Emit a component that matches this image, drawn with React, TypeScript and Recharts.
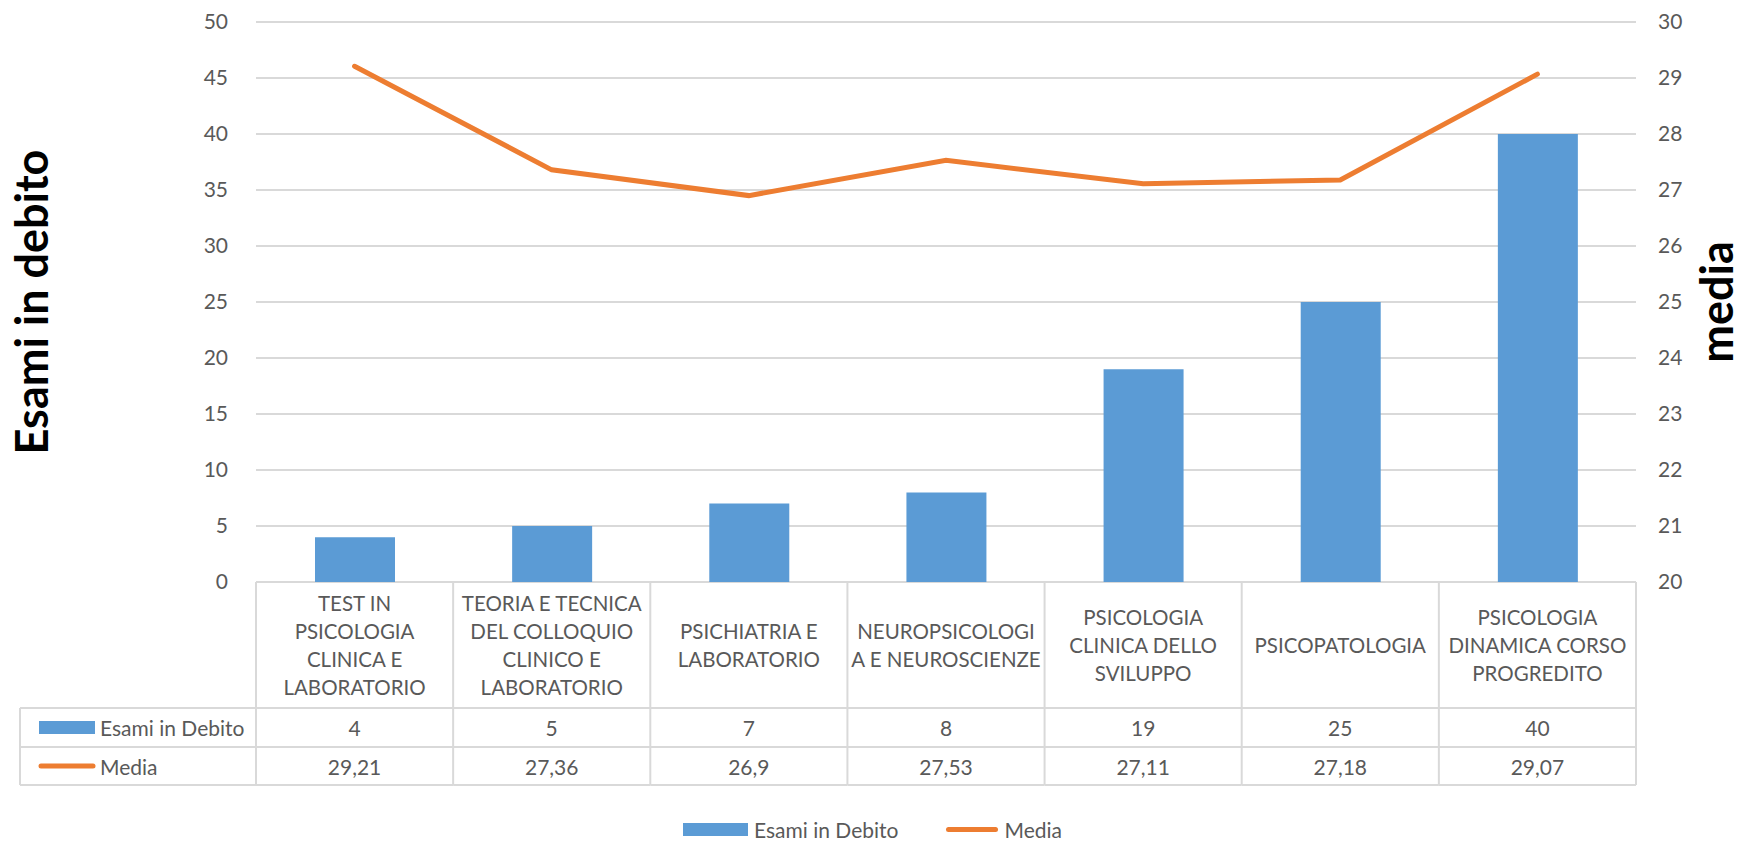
import React from "react"
import { ComposedChart, Bar, Line, XAxis, YAxis, CartesianGrid, Legend } from "recharts"

const categories = [
  "TEST IN PSICOLOGIA CLINICA E LABORATORIO",
  "TEORIA E TECNICA DEL COLLOQUIO CLINICO E LABORATORIO",
  "PSICHIATRIA E LABORATORIO",
  "NEUROPSICOLOGIA E NEUROSCIENZE",
  "PSICOLOGIA CLINICA DELLO SVILUPPO",
  "PSICOPATOLOGIA",
  "PSICOLOGIA DINAMICA CORSO PROGREDITO",
]

// wrapped the way the spreadsheet shows them
const categoryLines = [
  ["TEST IN", "PSICOLOGIA", "CLINICA E", "LABORATORIO"],
  ["TEORIA E TECNICA", "DEL COLLOQUIO", "CLINICO E", "LABORATORIO"],
  ["PSICHIATRIA E", "LABORATORIO"],
  ["NEUROPSICOLOGI", "A E NEUROSCIENZE"],
  ["PSICOLOGIA", "CLINICA DELLO", "SVILUPPO"],
  ["PSICOPATOLOGIA"],
  ["PSICOLOGIA", "DINAMICA CORSO", "PROGREDITO"],
]

const esamiInDebito = [4, 5, 7, 8, 19, 25, 40]
const media = [29.21, 27.36, 26.9, 27.53, 27.11, 27.18, 29.07]

const leftTicks = [0, 5, 10, 15, 20, 25, 30, 35, 40, 45, 50]
const rightTicks = [20, 21, 22, 23, 24, 25, 26, 27, 28, 29, 30]

const data = categories.map((name, i) => ({
  name,
  esami: esamiInDebito[i],
  media: media[i],
}))

const W = 1745
const H = 842
const LEFT_W = 256
const RIGHT_W = 109
const PLOT_TOP = 22
const PLOT_BOTTOM = 582
const BAND = (W - LEFT_W - RIGHT_W) / categories.length
const ROW1 = 708
const ROW2 = 747
const ROW3 = 785
const TABLE_LEFT = 20

const BLUE = "#5B9BD5"
const ORANGE = "#ED7D31"
const GRID = "#D9D9D9"
const TEXT = "#595959"
const FONT = "Lato, 'Open Sans', sans-serif"

const fmt = (v: number) => String(v).replace(".", ",")

function TableTick(props: any) {
  const { x, index } = props
  const left = x - BAND / 2
  const right = x + BAND / 2
  const lines = categoryLines[index] || []
  const lh = 28
  const midHeader = (PLOT_BOTTOM + ROW1) / 2
  const startY = midHeader - ((lines.length - 1) * lh) / 2
  const line = { stroke: GRID, strokeWidth: 2 }
  return (
    <g>
      <line x1={left} y1={PLOT_BOTTOM} x2={left} y2={ROW3} {...line} />
      {index === categories.length - 1 && <line x1={right} y1={PLOT_BOTTOM} x2={right} y2={ROW3} {...line} />}
      <line x1={left} y1={ROW1} x2={right} y2={ROW1} {...line} />
      <line x1={left} y1={ROW2} x2={right} y2={ROW2} {...line} />
      <line x1={left} y1={ROW3} x2={right} y2={ROW3} {...line} />
      {lines.map((t, i) => (
        <text key={i} x={x} y={startY + i * lh} textAnchor="middle" dominantBaseline="central" fill={TEXT} fontSize={20.5} fontFamily={FONT}>
          {t}
        </text>
      ))}
      <text x={x} y={(ROW1 + ROW2) / 2} textAnchor="middle" dominantBaseline="central" fill={TEXT} fontSize={21} fontFamily={FONT}>
        {fmt(esamiInDebito[index])}
      </text>
      <text x={x} y={(ROW2 + ROW3) / 2} textAnchor="middle" dominantBaseline="central" fill={TEXT} fontSize={21} fontFamily={FONT}>
        {fmt(media[index])}
      </text>
      {index === 0 && (
        <g>
          <line x1={TABLE_LEFT} y1={ROW1} x2={left} y2={ROW1} {...line} />
          <line x1={TABLE_LEFT} y1={ROW2} x2={left} y2={ROW2} {...line} />
          <line x1={TABLE_LEFT} y1={ROW3} x2={left} y2={ROW3} {...line} />
          <line x1={TABLE_LEFT} y1={ROW1} x2={TABLE_LEFT} y2={ROW3} {...line} />
          <rect x={39} y={(ROW1 + ROW2) / 2 - 6.5} width={56} height={13} fill={BLUE} />
          <text x={100} y={(ROW1 + ROW2) / 2} dominantBaseline="central" fill={TEXT} fontSize={21} fontFamily={FONT}>
            Esami in Debito
          </text>
          <line x1={41} y1={(ROW2 + ROW3) / 2} x2={93} y2={(ROW2 + ROW3) / 2} stroke={ORANGE} strokeWidth={5} strokeLinecap="round" />
          <text x={100} y={(ROW2 + ROW3) / 2} dominantBaseline="central" fill={TEXT} fontSize={21} fontFamily={FONT}>
            Media
          </text>
        </g>
      )}
    </g>
  )
}

function AxisTitle(props: any) {
  const { viewBox, text, side } = props
  const vb = viewBox || { x: 0, y: PLOT_TOP, width: LEFT_W, height: PLOT_BOTTOM - PLOT_TOP }
  const cy = vb.y + vb.height / 2
  const bx = side === "left" ? 48 : 1733
  return (
    <text
      x={bx}
      y={cy}
      transform={`rotate(-90, ${bx}, ${cy})`}
      textAnchor="middle"
      fill="#000"
      fontSize={45}
      fontWeight="bold"
      fontFamily={FONT}
    >
      {text}
    </text>
  )
}

function LegendContent() {
  return (
    <div style={{ display: "flex", justifyContent: "center", alignItems: "center", height: 26, fontFamily: FONT, fontSize: 21, color: TEXT }}>
      <span style={{ display: "inline-block", width: 65, height: 13, background: BLUE, marginRight: 6 }} />
      <span style={{ marginRight: 48 }}>Esami in Debito</span>
      <span style={{ display: "inline-block", width: 52, height: 5, background: ORANGE, borderRadius: 3, marginRight: 6 }} />
      <span>Media</span>
    </div>
  )
}

export default function App() {
  return (
    <div style={{ position: "absolute", left: 0, top: 0, width: W, height: H, background: "#fff" }}>
      <ComposedChart width={W} height={H} data={data} margin={{ top: PLOT_TOP, right: 0, bottom: 0, left: 0 }}>
        <CartesianGrid yAxisId="left" vertical={false} stroke={GRID} strokeWidth={2} />
        <XAxis
          dataKey="name"
          height={H - PLOT_BOTTOM - 26}
          axisLine={false}
          tickLine={false}
          interval={0}
          tick={<TableTick />}
        />
        <YAxis
          yAxisId="left"
          width={LEFT_W}
          domain={[0, 50]}
          ticks={leftTicks}
          axisLine={false}
          tickLine={false}
          tickMargin={22}
          tick={{ fill: TEXT, fontSize: 21, fontFamily: FONT }}
          label={<AxisTitle text="Esami in debito" side="left" />}
        />
        <YAxis
          yAxisId="right"
          orientation="right"
          width={RIGHT_W}
          domain={[20, 30]}
          ticks={rightTicks}
          axisLine={false}
          tickLine={false}
          tickMargin={16}
          tick={{ fill: TEXT, fontSize: 21, fontFamily: FONT }}
          label={<AxisTitle text="media" side="right" />}
        />
        <Legend verticalAlign="bottom" height={26} content={<LegendContent />} />
        <Bar yAxisId="left" dataKey="esami" name="Esami in Debito" fill={BLUE} barSize={80} isAnimationActive={false} />
        <Line
          yAxisId="right"
          type="linear"
          dataKey="media"
          name="Media"
          stroke={ORANGE}
          strokeWidth={5}
          strokeLinecap="round"
          dot={false}
          activeDot={false}
          isAnimationActive={false}
        />
      </ComposedChart>
    </div>
  )
}
